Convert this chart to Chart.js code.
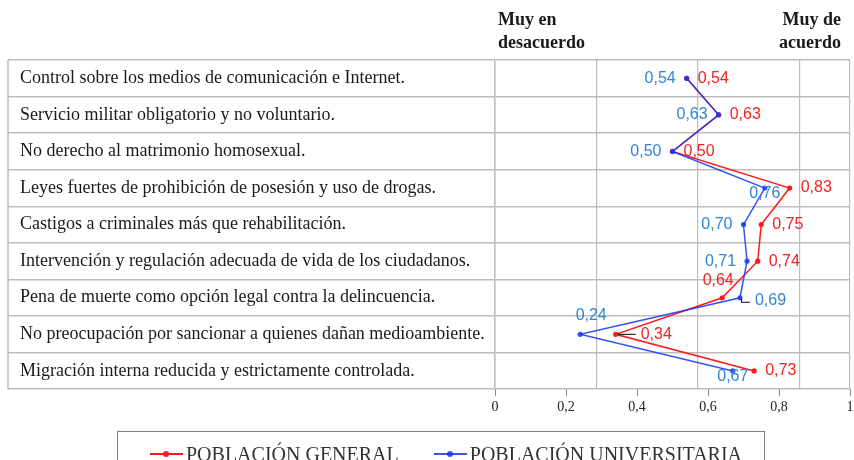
<!DOCTYPE html>
<html lang="es">
<head>
<meta charset="utf-8">
<title>Actitudes autoritarias</title>
<script src="https://cdn.jsdelivr.net/npm/chart.js@4.4.1/dist/chart.umd.min.js"></script>
<style>
    html, body { margin: 0; padding: 0; background: #fff; overflow: hidden; }
    #wrap { position: relative; width: 854px; height: 460px; }
    #legend {
        position: absolute; left: 117px; top: 431px; width: 648px; height: 40px;
        box-sizing: border-box; border: 1px solid #7f7f7f;
        display: flex; padding: 5px 0 0 32px; gap: 35px;
        font-family: "Liberation Serif", serif; font-size: 20px; line-height: 20px; color: #333;
    }
    .item { display: flex; align-items: center; white-space: nowrap; }
    .swatch { position: relative; width: 33px; height: 2px; margin-right: 3px; }
    .swatch i { position: absolute; left: 13px; top: -2px; width: 6px; height: 6px; border-radius: 50%; }
</style>
</head>
<body>
<div id="wrap">
    <canvas id="chart" width="854" height="460"></canvas>
    <div id="legend"></div>
</div>
<script>
// Data
const categories = [
    'Control sobre los medios de comunicación e Internet.',
    'Servicio militar obligatorio y no voluntario.',
    'No derecho al matrimonio homosexual.',
    'Leyes fuertes de prohibición de posesión y uso de drogas.',
    'Castigos a criminales más que rehabilitación.',
    'Intervención y regulación adecuada de vida de los ciudadanos.',
    'Pena de muerte como opción legal contra la delincuencia.',
    'No preocupación por sancionar a quienes dañan medioambiente.',
    'Migración interna reducida y estrictamente controlada.'
];
const generalValues = [0.54, 0.63, 0.50, 0.83, 0.75, 0.74, 0.64, 0.34, 0.73];
const universityValues = [0.54, 0.63, 0.50, 0.76, 0.70, 0.71, 0.69, 0.24, 0.67];
const xTicks = [0, 0.2, 0.4, 0.6, 0.8, 1];
const seriesNames = ['POBLACIÓN GENERAL', 'POBLACIÓN UNIVERSITARIA'];
const headerLeft = ['Muy en', 'desacuerdo'];
const headerRight = ['Muy de', 'acuerdo'];

// where each value label sits next to its point
const generalLabelPos = ['right', 'right', 'right', 'right', 'right', 'right', 'above', 'leader', 'right'];
const universityLabelPos = ['left', 'left', 'left', 'below', 'left', 'left', 'elbow', 'above-right', 'below'];

const RED = '#ff1a1a';
const BLUE = 'rgba(20, 55, 245, 0.85)';
const GRID = '#bdbdbd';

function fmt(v, digits) {
    if (v === 0 || v === 1) return String(v);
    return v.toFixed(digits).replace('.', ',');
}

// the table frame on the left (outer border of the label column)
const tableFrame = {
    id: 'tableFrame',
    afterDraw(chart) {
        const { ctx, chartArea } = chart;
        const y = chart.scales.y;
        const x = chartArea.left - y.options.grid.tickLength;
        ctx.save();
        ctx.strokeStyle = GRID;
        ctx.lineWidth = 1.5;
        ctx.beginPath();
        ctx.moveTo(x, chartArea.top);
        ctx.lineTo(x, chartArea.bottom);
        ctx.stroke();
        ctx.restore();
    }
};

// "Muy en desacuerdo" / "Muy de acuerdo" above the plot
const headers = {
    id: 'headers',
    afterDraw(chart) {
        const { ctx, chartArea } = chart;
        ctx.save();
        ctx.font = 'bold 18px "Liberation Serif", serif';
        ctx.fillStyle = '#1a1a1a';
        ctx.textBaseline = 'alphabetic';
        ctx.textAlign = 'left';
        headerLeft.forEach((t, i) => ctx.fillText(t, chartArea.left + 3, chartArea.top - 35 + i * 23));
        ctx.textAlign = 'right';
        headerRight.forEach((t, i) => ctx.fillText(t, chartArea.right - 9, chartArea.top - 35 + i * 23));
        ctx.restore();
    }
};

// value labels next to each point
const valueLabels = {
    id: 'valueLabels',
    afterDatasetsDraw(chart) {
        const { ctx } = chart;
        ctx.save();
        ctx.font = '16px "Liberation Sans", sans-serif';
        ctx.textBaseline = 'middle';
        chart.data.datasets.forEach((ds, di) => {
            const meta = chart.getDatasetMeta(di);
            meta.data.forEach((pt, i) => {
                const text = fmt(ds.data[i], 2);
                const pos = ds.labelPos[i];
                let x = pt.x, y = pt.y, align = 'left';
                if (pos === 'right') { x += 11; }
                else if (pos === 'left') { x -= 11; align = 'right'; }
                else if (pos === 'above') { x -= 4; y -= 17; align = 'center'; }
                else if (pos === 'above-right') { x += 11; y -= 19; align = 'center'; }
                else if (pos === 'below') { y += 6; align = 'center'; }
                else if (pos === 'leader') {
                    ctx.strokeStyle = '#000';
                    ctx.lineWidth = 1;
                    ctx.beginPath();
                    ctx.moveTo(pt.x + 2, pt.y);
                    ctx.lineTo(pt.x + 20, pt.y);
                    ctx.stroke();
                    x += 25;
                } else if (pos === 'elbow') {
                    ctx.strokeStyle = '#000';
                    ctx.lineWidth = 1;
                    ctx.beginPath();
                    ctx.moveTo(pt.x + 1.5, pt.y + 1);
                    ctx.lineTo(pt.x + 1.5, pt.y + 4.5);
                    ctx.lineTo(pt.x + 10, pt.y + 4.5);
                    ctx.stroke();
                    x += 15; y += 3;
                }
                ctx.fillStyle = ds.labelColor;
                ctx.textAlign = align;
                ctx.fillText(text, x, y);
            });
        });
        ctx.restore();
    }
};

const chart = new Chart(document.getElementById('chart'), {
    type: 'line',
    data: {
        labels: categories,
        datasets: [
            {
                label: seriesNames[0],
                data: generalValues,
                borderColor: RED,
                backgroundColor: RED,
                labelColor: '#f52020',
                labelPos: generalLabelPos,
                order: 2
            },
            {
                label: seriesNames[1],
                data: universityValues,
                borderColor: BLUE,
                backgroundColor: BLUE,
                labelColor: '#2f86d2',
                labelPos: universityLabelPos,
                order: 1
            }
        ]
    },
    options: {
        indexAxis: 'y',
        responsive: false,
        animation: false,
        devicePixelRatio: 1,
        layout: { padding: { left: 20, right: 3, top: 60, bottom: 41 } },
        elements: {
            line: { borderWidth: 1.5, tension: 0 },
            point: { radius: 2.6, borderWidth: 0 }
        },
        plugins: {
            legend: { display: false },
            tooltip: { enabled: false }
        },
        scales: {
            x: {
                type: 'linear',
                position: 'bottom',
                min: 0,
                max: 1,
                afterBuildTicks: s => { s.ticks = xTicks.map(v => ({ value: v })); },
                afterFit: s => { s.paddingRight = 0; },
                grid: { drawOnChartArea: false, tickLength: 7, color: '#8c8c8c' },
                border: { display: false },
                ticks: {
                    padding: 3,
                    color: '#222',
                    font: { family: 'Liberation Serif', size: 14 },
                    callback: v => fmt(v, 1)
                }
            },
            cols: {
                type: 'linear',
                axis: 'x',
                position: 'top',
                min: 0,
                max: 3.5,
                ticks: { display: false, stepSize: 1 },
                grid: { drawTicks: false, color: GRID, lineWidth: 1.2 },
                border: { display: false }
            },
            y: {
                type: 'category',
                offset: true,
                grid: { offset: true, color: GRID, lineWidth: 1.5, tickLength: 487, tickColor: GRID },
                border: { display: true, color: GRID, width: 1.5 },
                ticks: {
                    crossAlign: 'far',
                    autoSkip: false,
                    color: '#1a1a1a',
                    font: { family: 'Liberation Serif', size: 18 }
                },
                afterFit: s => { s.width = 475; }
            }
        }
    },
    plugins: [tableFrame, headers, valueLabels]
});

// legend built from the chart's own datasets
const legendEl = document.getElementById('legend');
chart.data.datasets.forEach(ds => {
    const item = document.createElement('div');
    item.className = 'item';
    const sw = document.createElement('span');
    sw.className = 'swatch';
    sw.style.background = ds.borderColor;
    const dot = document.createElement('i');
    dot.style.background = ds.borderColor;
    sw.appendChild(dot);
    item.appendChild(sw);
    item.appendChild(document.createTextNode(ds.label));
    legendEl.appendChild(item);
});
</script>
</body>
</html>
